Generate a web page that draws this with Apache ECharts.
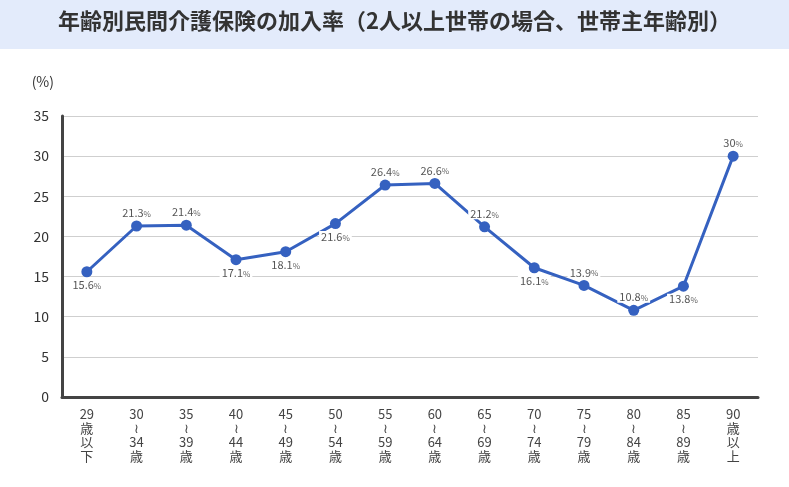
<!DOCTYPE html>
<html>
<head>
<meta charset="utf-8">
<script src="https://cdn.jsdelivr.net/npm/echarts@6/dist/echarts.min.js"></script>
<style>
  html, body { margin: 0; padding: 0; background: #fff; }
  #chart { width: 789px; height: 487px; }
</style>
</head>
<body>
<div id="chart"></div>
<script>
var titleText = '年齢別民間介護保険の加入率（2人以上世帯の場合、世帯主年齢別）';
var categories = [
  '29\n歳\n以\n下', '30\n≀\n34\n歳', '35\n≀\n39\n歳', '40\n≀\n44\n歳', '45\n≀\n49\n歳',
  '50\n≀\n54\n歳', '55\n≀\n59\n歳', '60\n≀\n64\n歳', '65\n≀\n69\n歳', '70\n≀\n74\n歳',
  '75\n≀\n79\n歳', '80\n≀\n84\n歳', '85\n≀\n89\n歳', '90\n歳\n以\n上'
];
var rates = [15.6, 21.3, 21.4, 17.1, 18.1, 21.6, 26.4, 26.6, 21.2, 16.1, 13.9, 10.8, 13.8, 30];
// where each value label sits
var labelSide = ['bottom', 'top', 'top', 'bottom', 'bottom', 'bottom', 'top', 'top', 'top', 'bottom', 'top', 'top', 'bottom', 'top'];

(function () {
  var myChart = echarts.init(document.getElementById('chart'));
  var font = '"Noto Sans CJK JP", "Noto Sans", sans-serif';

  var seriesData = rates.map(function (v, i) {
    return {
      value: v,
      label: { position: labelSide[i] }
    };
  });

  var option = {
    animation: false,
    textStyle: { fontFamily: font },
    graphic: [
      {
        type: 'rect',
        left: 0, top: 0,
        shape: { width: 789, height: 49 },
        style: { fill: '#e3ebfb' },
        silent: true
      },
      {
        type: 'text',
        left: 'center',
        top: 10,
        style: {
          text: titleText,
          fill: '#333',
          font: 'bold 22px "Noto Sans CJK JP", sans-serif'
        }
      }
    ],
    grid: { left: 62, right: 31, top: 116, bottom: 90, containLabel: false },
    xAxis: {
      type: 'category',
      data: categories,
      boundaryGap: true,
      axisLine: { show: true, lineStyle: { color: '#444', width: 3 } },
      axisTick: { show: false },
      axisLabel: {
        color: '#444',
        fontSize: 13,
        lineHeight: 14,
        margin: 10,
        interval: 0
      }
    },
    yAxis: {
      type: 'value',
      min: 0,
      max: 35,
      interval: 5,
      name: '(%)',
      nameLocation: 'end',
      nameGap: 27,
      nameTextStyle: { color: '#333', fontSize: 14, align: 'right', padding: [0, 8, 0, 0] },
      axisLine: { show: true, lineStyle: { color: '#444', width: 3 } },
      axisTick: { show: false },
      axisLabel: { color: '#333', fontSize: 14, margin: 13 },
      splitLine: { lineStyle: { color: '#cfcfcf', width: 1 } }
    },
    series: [
      {
        type: 'line',
        data: seriesData,
        symbol: 'circle',
        symbolSize: 11,
        lineStyle: { color: '#3561c0', width: 3 },
        itemStyle: { color: '#3561c0' },
        label: {
          show: true,
          distance: 2,
          backgroundColor: '#fff',
          padding: [0, 2],
          formatter: function (p) { return '{v|' + p.value + '}{u|%}'; },
          rich: {
            v: { color: '#555', fontSize: 11, fontFamily: font },
            u: { color: '#666', fontSize: 8, fontFamily: font, padding: [2, 0, 0, 0] }
          }
        }
      }
    ]
  };
  myChart.setOption(option);
})();
</script>
</body>
</html>
